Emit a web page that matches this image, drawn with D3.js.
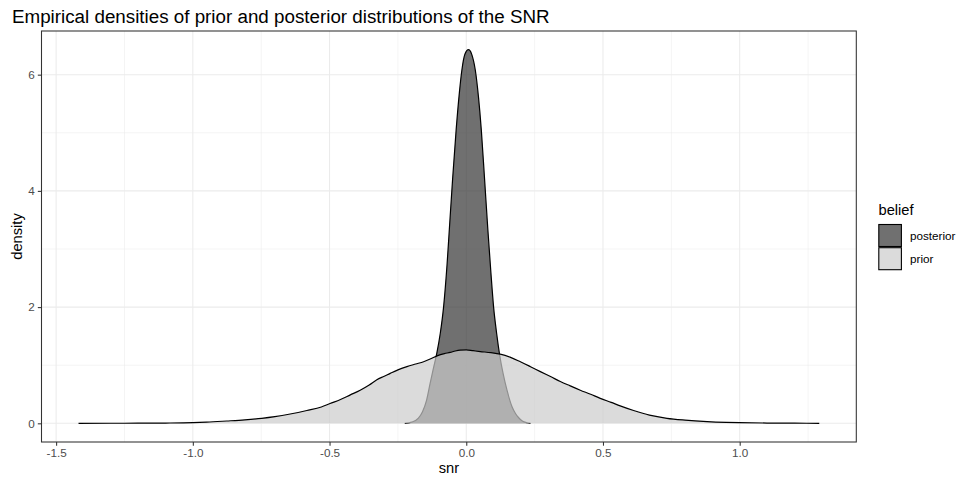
<!DOCTYPE html>
<html>
<head>
<meta charset="utf-8">
<script src="https://cdn.jsdelivr.net/npm/d3@7"></script>
<style>
  body { margin: 0; background: #fff; }
  svg { display: block; font-family: "Liberation Sans", Arial, Helvetica, sans-serif; }
</style>
</head>
<body>
<svg id="chart" width="957" height="480"></svg>
<script>
// ---- data ----
const posteriorX = [-0.225, -0.2, -0.175, -0.16, -0.145, -0.132, -0.12, -0.108, -0.095, -0.083, -0.07, -0.062, -0.05, -0.037, -0.025, -0.016, -0.005, 0.008, 0.02, 0.033, 0.045, 0.055, 0.067, 0.079, 0.09, 0.1, 0.111, 0.122, 0.135, 0.149, 0.167, 0.18, 0.191, 0.205, 0.222, 0.235];
const posteriorD = [0, 0.02, 0.09, 0.2, 0.4, 0.69, 0.95, 1.2, 1.55, 2.0, 2.75, 3.33, 4.2, 5.05, 5.7, 6.08, 6.35, 6.43, 6.35, 6.08, 5.6, 5.05, 4.2, 3.33, 2.6, 2.0, 1.55, 1.18, 0.85, 0.57, 0.29, 0.17, 0.10, 0.04, 0.01, 0];
const priorX = [-1.418, -1.3, -1.2, -1.1, -1.0, -0.95, -0.876, -0.81, -0.748, -0.7, -0.644, -0.583, -0.53, -0.498, -0.46, -0.424, -0.388, -0.355, -0.327, -0.3, -0.278, -0.25, -0.217, -0.185, -0.156, -0.13, -0.107, -0.08, -0.059, -0.04, -0.022, 0, 0.025, 0.051, 0.09, 0.124, 0.16, 0.198, 0.235, 0.271, 0.31, 0.344, 0.38, 0.417, 0.455, 0.49, 0.53, 0.563, 0.612, 0.67, 0.734, 0.8, 0.881, 0.95, 1.0, 1.1, 1.2, 1.291];
const priorD = [0, 0.001, 0.002, 0.005, 0.012, 0.02, 0.04, 0.06, 0.086, 0.115, 0.16, 0.22, 0.28, 0.34, 0.41, 0.49, 0.57, 0.66, 0.75, 0.81, 0.86, 0.92, 0.975, 1.02, 1.06, 1.11, 1.16, 1.2, 1.22, 1.245, 1.26, 1.265, 1.25, 1.235, 1.215, 1.19, 1.14, 1.06, 0.975, 0.89, 0.8, 0.72, 0.645, 0.57, 0.5, 0.43, 0.36, 0.3, 0.22, 0.14, 0.086, 0.055, 0.03, 0.017, 0.011, 0.005, 0.002, 0];
const xTicks = [-1.5, -1.0, -0.5, 0.0, 0.5, 1.0];
const xTickLabels = ["-1.5", "-1.0", "-0.5", "0.0", "0.5", "1.0"];
const xMinor = [-1.25, -0.75, -0.25, 0.25, 0.75, 1.25];
const yTicks = [0, 2, 4, 6];
const yTickLabels = ["0", "2", "4", "6"];
const yMinor = [1, 3, 5];
const beliefs = ["posterior", "prior"];
const fills = ["#333333", "#CCCCCC"];

// ---- layout ----
const svg = d3.select("#chart");
const L = 41.5, R = 856.3, T = 31, B = 442;

const allX = priorX.concat(posteriorX);
const xLo = d3.min(allX), xHi = d3.max(allX), xPad = (xHi - xLo) * 0.05;
const yHi = d3.max(priorD.concat(posteriorD)), yPad = yHi * 0.05;
const x = d3.scaleLinear().domain([xLo - xPad, xHi + xPad]).range([L, R]);
const y = d3.scaleLinear().domain([-yPad, yHi + yPad]).range([B, T]);

// panel grid
const grid = svg.append("g");
grid.selectAll(".xm").data(xMinor).join("line")
  .attr("x1", d => x(d)).attr("x2", d => x(d)).attr("y1", T).attr("y2", B)
  .attr("stroke", "#EBEBEB").attr("stroke-width", 0.55);
grid.selectAll(".ym").data(yMinor).join("line")
  .attr("x1", L).attr("x2", R).attr("y1", d => y(d)).attr("y2", d => y(d))
  .attr("stroke", "#EBEBEB").attr("stroke-width", 0.55);
grid.selectAll(".xM").data(xTicks).join("line")
  .attr("x1", d => x(d)).attr("x2", d => x(d)).attr("y1", T).attr("y2", B)
  .attr("stroke", "#EBEBEB").attr("stroke-width", 1.07);
grid.selectAll(".yM").data(yTicks).join("line")
  .attr("x1", L).attr("x2", R).attr("y1", d => y(d)).attr("y2", d => y(d))
  .attr("stroke", "#EBEBEB").attr("stroke-width", 1.07);

// densities
const series = [
  { name: "posterior", xs: posteriorX, ds: posteriorD, fill: fills[0] },
  { name: "prior", xs: priorX, ds: priorD, fill: fills[1] }
];
const area = d3.area().x(p => x(p[0])).y0(y(0)).y1(p => y(p[1])).curve(d3.curveMonotoneX);
const line = d3.line().x(p => x(p[0])).y(p => y(p[1])).curve(d3.curveMonotoneX);
series.forEach(s => {
  const pts = s.xs.map((v, i) => [v, s.ds[i]]);
  const g = svg.append("g");
  g.append("path").attr("d", area(pts)).attr("fill", s.fill).attr("fill-opacity", 0.7);
  g.append("path").attr("d", line(pts)).attr("fill", "none").attr("stroke", "#000").attr("stroke-width", 1.2);
});

// panel border
svg.append("rect").attr("x", L).attr("y", T).attr("width", R - L).attr("height", B - T)
  .attr("fill", "none").attr("stroke", "#333333").attr("stroke-width", 1.07);

// axes
const xAxis = svg.append("g").attr("transform", `translate(0,${B})`)
  .call(d3.axisBottom(x).tickValues(xTicks).tickFormat((d, i) => xTickLabels[i]).tickSizeOuter(0).tickSize(3.7).tickPadding(2.5));
const yAxis = svg.append("g").attr("transform", `translate(${L},0)`)
  .call(d3.axisLeft(y).tickValues(yTicks).tickFormat((d, i) => yTickLabels[i]).tickSizeOuter(0).tickSize(3.7).tickPadding(3));
[xAxis, yAxis].forEach(a => {
  a.select(".domain").remove();
  a.selectAll(".tick line").attr("stroke", "#333333").attr("stroke-width", 1.07);
  a.selectAll(".tick text").attr("fill", "#4D4D4D").style("font-size", "11.7px")
    .style("font-family", '"Liberation Sans", Arial, sans-serif');
});

// axis titles
svg.append("text").attr("x", (L + R) / 2).attr("y", 473).attr("text-anchor", "middle")
  .style("font-size", "14.7px").attr("fill", "#000").text("snr");
svg.append("text").attr("transform", `translate(22,${(T + B) / 2}) rotate(-90)`).attr("text-anchor", "middle")
  .style("font-size", "14.7px").attr("fill", "#000").text("density");

// title
svg.append("text").attr("x", 12).attr("y", 22.5).style("font-size", "18.8px").attr("fill", "#000")
  .text("Empirical densities of prior and posterior distributions of the SNR");

// legend
const lg = svg.append("g");
lg.append("text").attr("x", 878.5).attr("y", 214.5).style("font-size", "14.7px").attr("fill", "#000").text("belief");
beliefs.forEach((b, i) => {
  const ky = 224.5 + i * 23.2;
  lg.append("rect").attr("x", 878.8).attr("y", ky).attr("width", 22.6).attr("height", 22)
    .attr("fill", fills[i]).attr("fill-opacity", 0.7).attr("stroke", "#000").attr("stroke-width", 1.1);
  lg.append("text").attr("x", 910).attr("y", ky + 11).attr("dy", "0.35em")
    .style("font-size", "11.7px").attr("fill", "#000").text(b);
});
</script>
</body>
</html>
